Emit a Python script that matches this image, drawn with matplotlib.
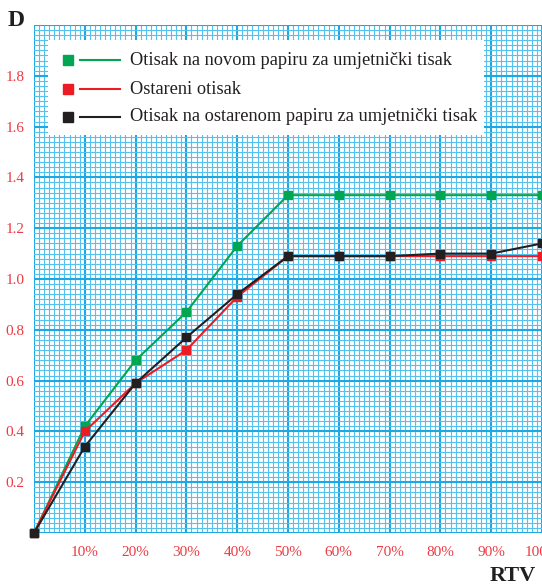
"""
Density vs. RTV on graph-paper style grid
"""

import matplotlib.pyplot as plt
from matplotlib.patches import Rectangle
from matplotlib.lines import Line2D
import numpy as np

plt.rcParams['font.family'] = ['Liberation Serif', 'DejaVu Serif']

# data
rtv = [0, 10, 20, 30, 40, 50, 60, 70, 80, 90, 100]
novi_papir = [0, 0.42, 0.68, 0.87, 1.13, 1.33, 1.33, 1.33, 1.33, 1.33, 1.33]
ostareni = [0, 0.40, 0.59, 0.72, 0.93, 1.09, 1.09, 1.09, 1.09, 1.09, 1.09]
ostareni_papir = [0, 0.34, 0.59, 0.77, 0.94, 1.09, 1.09, 1.09, 1.10, 1.10, 1.14]

series_labels = ['Otisak na novom papiru za umjetnički tisak',
                 'Ostareni otisak',
                 'Otisak na ostarenom papiru za umjetnički tisak']
x_ticks = [10, 20, 30, 40, 50, 60, 70, 80, 90, 100]
x_ticklabels = ['10%', '20%', '30%', '40%', '50%', '60%', '70%', '80%', '90%', '100%']
y_ticks = [0.2, 0.4, 0.6, 0.8, 1.0, 1.2, 1.4, 1.6, 1.8]

# colors
c_green = '#00a651'
c_red = '#ed1c24'
c_black = '#231f20'
c_grid = '#55c2ee'
c_grid_major = '#1ba8e5'
c_label = '#ee3a43'

fig = plt.figure(figsize=(5.42, 5.87), dpi=100)
ax = fig.add_axes([34 / 542, 1 - 533 / 587, 508 / 542, 508 / 587])
ax.set_xlim(0, 100)
ax.set_ylim(0, 2.0)

# graph paper grid
for xv in np.arange(0, 101, 1):
    major = xv % 10 == 0
    ax.axvline(xv, color=c_grid_major if major else c_grid,
               lw=1.5 if major else 0.8, zorder=0)
for yv in np.arange(0, 201, 2) / 100:
    major = round(yv * 100) % 20 == 0
    ax.axhline(yv, color=c_grid_major if major else c_grid,
               lw=1.5 if major else 0.8, zorder=0)

for sp in ax.spines.values():
    sp.set_visible(False)

# series
colors = [c_green, c_red, c_black]
for vals, col, z in zip([novi_papir, ostareni, ostareni_papir], colors, [3, 4, 5]):
    ax.plot(rtv, vals, color=col, lw=1.5, marker='s', ms=5.5,
            mec=col, mfc=col, zorder=z, clip_on=False)

ax.set_xticks(x_ticks)
ax.set_xticklabels(x_ticklabels)
ax.set_yticks(y_ticks)
ax.set_yticklabels([f'{v:.1f}' for v in y_ticks])
ax.tick_params(axis='both', length=0, labelcolor=c_label, labelsize=11)
ax.tick_params(axis='x', pad=9)
ax.tick_params(axis='y', pad=7)

# legend drawn on white box
ax.add_patch(Rectangle((0.028, 0.783), 0.858, 0.187, transform=ax.transAxes,
                       facecolor='white', edgecolor='none', zorder=6))
rows_y = [0.931, 0.874, 0.819]
for ry, col, lab in zip(rows_y, colors, series_labels):
    ax.add_line(Line2D([0.067], [ry], marker='s', ms=7.5, color=col,
                       transform=ax.transAxes, zorder=7))
    ax.add_line(Line2D([0.091, 0.169], [ry, ry], color=col, lw=1.5,
                       transform=ax.transAxes, zorder=7))
    ax.text(0.189, ry, lab, transform=ax.transAxes, fontsize=13.2,
            va='center', ha='left', color=c_black, zorder=8)

# axis names
fig.text(8 / 542, 1 - 20 / 587, 'D', fontsize=17, fontweight='bold',
         ha='left', va='center', color=c_black)
fig.text(490 / 542, 1 - 576 / 587, 'RTV', fontsize=16, fontweight='bold',
         ha='left', va='center', color=c_black)

plt.savefig('out.png', dpi=100, facecolor='white')
plt.close()
